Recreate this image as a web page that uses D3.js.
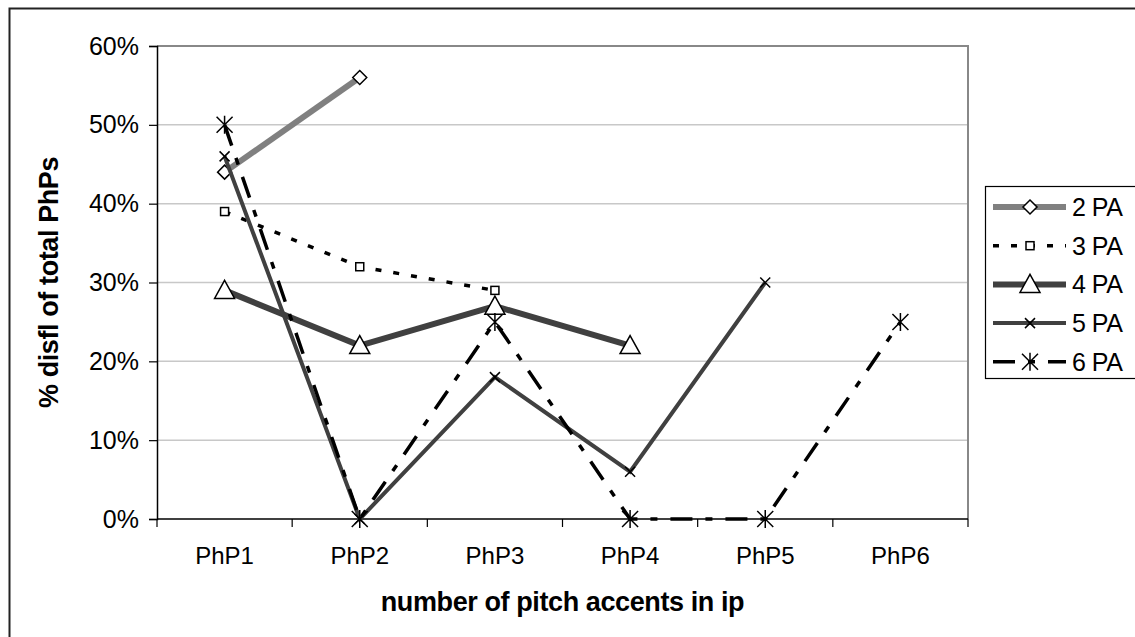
<!DOCTYPE html>
<html>
<head>
<meta charset="utf-8">
<script src="https://cdn.jsdelivr.net/npm/d3@7"></script>
<style>
  body { margin: 0; background: #fff; }
  svg { display: block; font-family: "Liberation Sans", Arial, sans-serif; }
</style>
</head>
<body>
<svg id="chart" width="1135" height="637"></svg>
<script>
// data
var categories = ["PhP1", "PhP2", "PhP3", "PhP4", "PhP5", "PhP6"];
var yTicks = [0, 0.1, 0.2, 0.3, 0.4, 0.5, 0.6];
var pa2 = [0.44, 0.56];
var pa3 = [0.39, 0.32, 0.29];
var pa4 = [0.29, 0.22, 0.27, 0.22];
var pa5 = [0.46, 0.00, 0.18, 0.06, 0.30];
var pa6 = [0.50, 0.00, 0.25, 0.00, 0.00, 0.25];
var seriesNames = ["2 PA", "3 PA", "4 PA", "5 PA", "6 PA"];

var series = [
  {name: seriesNames[0], values: pa2, color: "#808080", width: 6, dash: null, marker: "diamond"},
  {name: seriesNames[1], values: pa3, color: "#000", width: 3.5, dash: "6,12", marker: "square"},
  {name: seriesNames[2], values: pa4, color: "#404040", width: 6, dash: null, marker: "triangle"},
  {name: seriesNames[3], values: pa5, color: "#404040", width: 4, dash: null, marker: "cross"},
  {name: seriesNames[4], values: pa6, color: "#000", width: 3.5, dash: "22,13,7,13", marker: "star"}
];

var svg = d3.select("#chart");
var plotL = 157, plotR = 968, plotT = 46, plotB = 519;

// outer chart border (only left/top fall inside the picture)
svg.append("rect")
  .attr("x", 9.5).attr("y", 8.5)
  .attr("width", 1200).attr("height", 700)
  .attr("fill", "none").attr("stroke", "#222").attr("stroke-width", 2);

var x = d3.scaleBand().domain(categories).range([plotL, plotR]);
var y = d3.scaleLinear().domain([0, 0.6]).range([plotB, plotT]);

// gridlines
svg.append("g").selectAll("line")
  .data(yTicks.filter(function(d) { return d > 0 && d < 0.6; }))
  .enter().append("line")
    .attr("x1", plotL).attr("x2", plotR)
    .attr("y1", function(d) { return y(d); })
    .attr("y2", function(d) { return y(d); })
    .attr("stroke", "#c8c8c8").attr("stroke-width", 1.5);

// plot area border (top, right)
svg.append("path")
  .attr("d", "M" + plotL + "," + plotT + "H" + plotR + "V" + plotB)
  .attr("fill", "none").attr("stroke", "#888").attr("stroke-width", 2);

// y axis
var yAxis = d3.axisLeft(y).tickValues(yTicks).tickSize(8).tickPadding(10)
  .tickFormat(d3.format(".0%"));
var gy = svg.append("g").attr("transform", "translate(" + plotL + ",0)").call(yAxis);
gy.select(".domain").attr("stroke", "#000").attr("stroke-width", 1.5);
gy.selectAll(".tick line").attr("stroke", "#000").attr("stroke-width", 1.2);
gy.selectAll("text").attr("font-size", 25).attr("fill", "#000")
  .attr("font-family", "Liberation Sans, Arial, sans-serif");

// x axis: labels centred, ticks at category boundaries
var xAxis = d3.axisBottom(x).tickSize(0).tickPadding(28);
var gx = svg.append("g").attr("transform", "translate(0," + plotB + ")").call(xAxis);
gx.select(".domain").remove();
gx.selectAll("text").attr("font-size", 24).attr("fill", "#000")
  .attr("font-family", "Liberation Sans, Arial, sans-serif");
svg.append("line")
  .attr("x1", plotL).attr("x2", plotR).attr("y1", plotB).attr("y2", plotB)
  .attr("stroke", "#000").attr("stroke-width", 1.5);
var bounds = categories.map(function(c) { return x(c); }).concat([plotR]);
svg.append("g").selectAll("line").data(bounds).enter().append("line")
  .attr("x1", function(d) { return d; }).attr("x2", function(d) { return d; })
  .attr("y1", plotB).attr("y2", plotB + 8)
  .attr("stroke", "#000").attr("stroke-width", 1.2);

// axis titles
svg.append("text")
  .attr("transform", "translate(58," + ((plotT + plotB) / 2) + ") rotate(-90)")
  .attr("text-anchor", "middle")
  .attr("font-size", 27).attr("font-weight", "bold")
  .attr("letter-spacing", -0.4)
  .text("% disfl of total PhPs");
svg.append("text")
  .attr("x", (plotL + plotR) / 2).attr("y", 611)
  .attr("text-anchor", "middle")
  .attr("font-size", 27).attr("font-weight", "bold")
  .attr("letter-spacing", -0.4)
  .text("number of pitch accents in ip");

function cx(i) { return x(categories[i]) + x.bandwidth() / 2; }

function drawMarker(g, type, px, py) {
  if (type == "diamond") {
    g.append("path")
      .attr("d", "M" + px + "," + (py - 7) + "L" + (px + 7) + "," + py + "L" + px + "," + (py + 7) + "L" + (px - 7) + "," + py + "Z")
      .attr("fill", "#fff").attr("stroke", "#000").attr("stroke-width", 1.5);
  } else if (type == "square") {
    g.append("rect")
      .attr("x", px - 4).attr("y", py - 4).attr("width", 8).attr("height", 8)
      .attr("fill", "#fff").attr("stroke", "#000").attr("stroke-width", 1.5);
  } else if (type == "triangle") {
    g.append("path")
      .attr("d", "M" + px + "," + (py - 10) + "L" + (px + 10) + "," + (py + 8) + "L" + (px - 10) + "," + (py + 8) + "Z")
      .attr("fill", "#fff").attr("stroke", "#000").attr("stroke-width", 1.5);
  } else if (type == "cross") {
    g.append("path")
      .attr("d", "M" + (px - 5) + "," + (py - 5) + "L" + (px + 5) + "," + (py + 5) + "M" + (px + 5) + "," + (py - 5) + "L" + (px - 5) + "," + (py + 5))
      .attr("stroke", "#000").attr("stroke-width", 1.5);
  } else if (type == "star") {
    g.append("path")
      .attr("d", "M" + (px - 8) + "," + (py - 8) + "L" + (px + 8) + "," + (py + 8) + "M" + (px + 8) + "," + (py - 8) + "L" + (px - 8) + "," + (py + 8) + "M" + px + "," + (py - 9) + "L" + px + "," + (py + 9))
      .attr("stroke", "#000").attr("stroke-width", 1.5);
  }
}

var line = d3.line()
  .x(function(d, i) { return cx(i); })
  .y(function(d) { return y(d); });

series.forEach(function(s) {
  var g = svg.append("g");
  g.append("path")
    .attr("d", line(s.values))
    .attr("fill", "none")
    .attr("stroke", s.color)
    .attr("stroke-width", s.width)
    .attr("stroke-dasharray", s.dash);
  s.values.forEach(function(v, i) {
    drawMarker(g, s.marker, cx(i), y(v));
  });
});

// legend
var lg = svg.append("g");
lg.append("rect")
  .attr("x", 985.5).attr("y", 186.5).attr("width", 170).attr("height", 192)
  .attr("fill", "#fff").attr("stroke", "#000").attr("stroke-width", 1.2);
series.forEach(function(s, i) {
  var ly = 207 + i * 38.7;
  var row = lg.append("g");
  row.append("line")
    .attr("x1", 993).attr("x2", 1066).attr("y1", ly).attr("y2", ly)
    .attr("stroke", s.color).attr("stroke-width", s.width)
    .attr("stroke-dasharray", s.dash);
  drawMarker(row, s.marker, 1030, ly);
  row.append("text")
    .attr("x", 1072).attr("y", ly + 9)
    .attr("font-size", 25)
    .attr("letter-spacing", -0.5)
    .text(s.name);
});
</script>
</body>
</html>
